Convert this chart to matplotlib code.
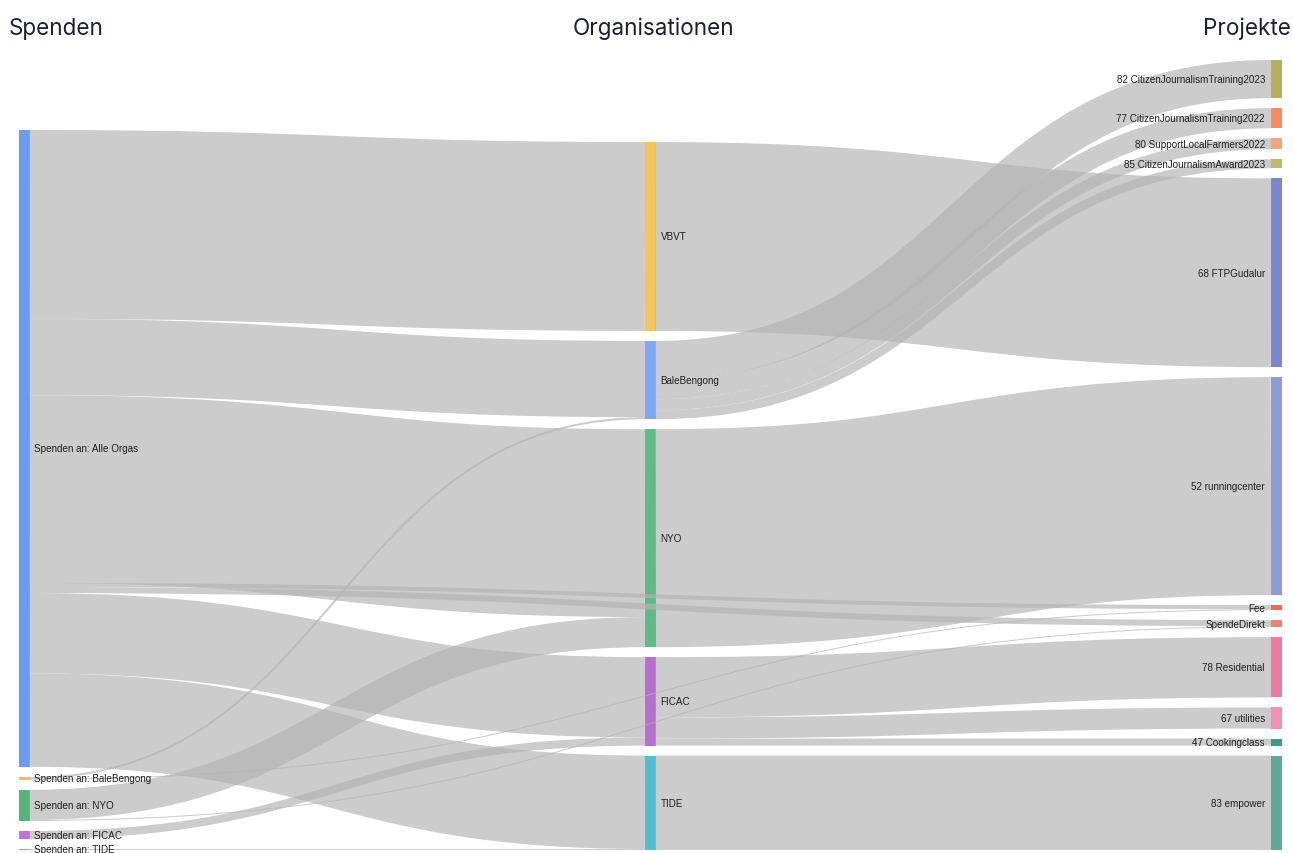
import matplotlib
matplotlib.use("Agg")
import matplotlib.pyplot as plt
from matplotlib.path import Path
from matplotlib.patches import PathPatch, Rectangle

# Knoten der drei Spalten
spenden = ["Spenden an: Alle Orgas", "Spenden an: BaleBengong", "Spenden an: NYO",
           "Spenden an: FICAC", "Spenden an: TIDE"]
organisationen = ["VBVT", "BaleBengong", "NYO", "FICAC", "TIDE"]
projekte = ["82 CitizenJournalismTraining2023", "77 CitizenJournalismTraining2022",
            "80 SupportLocalFarmers2022", "85 CitizenJournalismAward2023", "68 FTPGudalur",
            "52 runningcenter", "Fee", "SpendeDirekt", "78 Residential", "67 utilities",
            "47 Cookingclass", "83 empower"]

spalten_titel = ["Spenden", "Organisationen", "Projekte"]

# Flüsse (geschätzt aus dem Bild)
quelle = ["Spenden an: Alle Orgas"] * 7 + [
    "Spenden an: BaleBengong", "Spenden an: BaleBengong", "Spenden an: NYO", "Spenden an: NYO",
    "Spenden an: FICAC", "Spenden an: TIDE",
    "VBVT", "BaleBengong", "BaleBengong", "BaleBengong", "BaleBengong",
    "NYO", "FICAC", "FICAC", "FICAC", "TIDE"]
ziel = ["VBVT", "BaleBengong", "NYO", "Fee", "SpendeDirekt", "FICAC", "TIDE",
        "BaleBengong", "Fee", "NYO", "SpendeDirekt", "FICAC", "TIDE",
        "68 FTPGudalur", "82 CitizenJournalismTraining2023", "77 CitizenJournalismTraining2022",
        "80 SupportLocalFarmers2022", "85 CitizenJournalismAward2023",
        "52 runningcenter", "78 Residential", "67 utilities", "47 Cookingclass", "83 empower"]
wert = [188, 76, 187, 4, 6, 80, 93,
        2, 1, 30, 1, 8, 1,
        188, 38, 20, 11, 9,
        217, 60, 21, 7, 94]

farben = {
    "Spenden an: Alle Orgas": "#6a9cf6", "Spenden an: BaleBengong": "#f4c145",
    "Spenden an: NYO": "#52b67a", "Spenden an: FICAC": "#c172d8", "Spenden an: TIDE": "#52c2d2",
    "VBVT": "#f6c459", "BaleBengong": "#7ea8f6", "NYO": "#5dbb84", "FICAC": "#b86ecf",
    "TIDE": "#4fbfd1",
    "82 CitizenJournalismTraining2023": "#b3b25c", "77 CitizenJournalismTraining2022": "#fb8a60",
    "80 SupportLocalFarmers2022": "#f9a37c", "85 CitizenJournalismAward2023": "#bcbb68",
    "68 FTPGudalur": "#7c86cf", "52 runningcenter": "#8f9ad8", "Fee": "#ee6a5a",
    "SpendeDirekt": "#ef8171", "78 Residential": "#ee7ba1", "67 utilities": "#f390b4",
    "47 Cookingclass": "#3f9a88", "83 empower": "#5ea898",
}

W, H = 1293, 854
fig = plt.figure(figsize=(W / 100, H / 100), dpi=100)
ax = fig.add_axes([0, 0, 1, 1])
ax.set_xlim(0, W)
ax.set_ylim(H, 0)
ax.axis("off")

spalten = [spenden, organisationen, projekte]
knoten_b = 10.5
x_start, x_ende = 19, 1281.5
pad = 10
oben, unten = 61, 851

# Knotengrößen
ein = {}
aus = {}
for s, t, v in zip(quelle, ziel, wert):
    aus[s] = aus.get(s, 0) + v
    ein[t] = ein.get(t, 0) + v
groesse = {n: max(ein.get(n, 0), aus.get(n, 0)) for c in spalten for n in c}
k = min((unten - oben - (len(c) - 1) * pad) / sum(groesse[n] for n in c) for c in spalten)

pos = {}
for i, col in enumerate(spalten):
    x0 = x_start + i * (x_ende - knoten_b - x_start) / 2
    y = unten - (sum(groesse[n] for n in col) * k + (len(col) - 1) * pad)
    for n in col:
        h = groesse[n] * k
        pos[n] = (x0, y, h)
        y += h + pad

# Reihenfolge der Flüsse an den Knoten
links = list(zip(quelle, ziel, wert))
y_s = {}
y_t = {}
offs = {n: pos[n][1] for n in pos}
for i in sorted(range(len(links)), key=lambda i: (pos[links[i][0]][1], pos[links[i][1]][1])):
    s, t, v = links[i]
    y_s[i] = offs[s]
    offs[s] += v * k
offs = {n: pos[n][1] for n in pos}
for i in sorted(range(len(links)), key=lambda i: (pos[links[i][1]][1], pos[links[i][0]][1])):
    s, t, v = links[i]
    y_t[i] = offs[t]
    offs[t] += v * k

for i, (s, t, v) in enumerate(links):
    w = v * k
    xs = pos[s][0] + knoten_b
    xt = pos[t][0]
    ys = y_s[i] + w / 2
    yt = y_t[i] + w / 2
    xm = (xs + xt) / 2
    p = Path([(xs, ys), (xm, ys), (xm, yt), (xt, yt)],
             [Path.MOVETO, Path.CURVE4, Path.CURVE4, Path.CURVE4])
    ax.add_patch(PathPatch(p, fill=False, lw=w * 72 / 100, edgecolor="#b4b4b4",
                           alpha=0.68, capstyle="butt", zorder=2))

# Knoten und Beschriftungen
for i, col in enumerate(spalten):
    for n in col:
        x0, y0, h = pos[n]
        ax.add_patch(Rectangle((x0, y0), knoten_b, h, color=farben[n], lw=0, zorder=1))
        if i < 2:
            ax.text(x0 + knoten_b + 5, y0 + h / 2, n, ha="left", va="center", fontsize=7.1,
                    family=["Liberation Sans", "DejaVu Sans"], color="#1e1e1e", zorder=3)
        else:
            ax.text(x0 - 6, y0 + h / 2, n, ha="right", va="center", fontsize=7.1,
                    family=["Liberation Sans", "DejaVu Sans"], color="#1e1e1e", zorder=3)

titel_x = [9, 653, 1291]
titel_ha = ["left", "center", "right"]
for t, x, ha in zip(spalten_titel, titel_x, titel_ha):
    ax.text(x, 29, t, ha=ha, va="center", fontsize=16.2, family=["Inter", "DejaVu Sans"],
            color="#1c2036")

fig.savefig("out.png", dpi=100)
